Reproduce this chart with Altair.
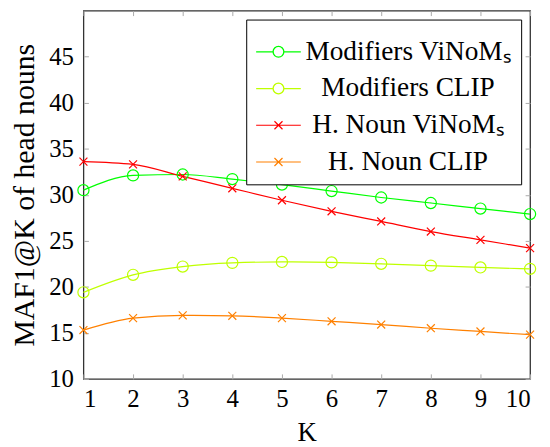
import altair as alt
import pandas as pd

K = [1, 2, 3, 4, 5, 6, 7, 8, 9, 10]
series_names = ["Modifiers ViNoMₛ", "Modifiers CLIP", "H. Noun ViNoMₛ", "H. Noun CLIP"]
mod_vinom = [30.5, 32.1, 32.2, 31.7, 31.1, 30.4, 29.7, 29.1, 28.5, 27.9]
mod_clip = [19.4, 21.3, 22.2, 22.6, 22.7, 22.65, 22.5, 22.3, 22.1, 21.95]
hn_vinom = [33.6, 33.3, 32.0, 30.7, 29.4, 28.2, 27.1, 26.0, 25.1, 24.2]
hn_clip = [15.3, 16.6, 16.9, 16.85, 16.6, 16.25, 15.9, 15.5, 15.15, 14.8]
colors = ["#00ff00", "#bfff00", "#ff0000", "#ff8000"]
y_ticks = [10, 15, 20, 25, 30, 35, 40, 45]

rows = []
for name, vals in zip(series_names, [mod_vinom, mod_clip, hn_vinom, hn_clip]):
    for k, v in zip(K, vals):
        rows.append({"K": k, "value": v, "series": name})
df = pd.DataFrame(rows)

W, H = 450, 371
SERIF = "Liberation Serif"

circle_path = "M0.7,0A0.7,0.7 0 1,1 -0.7,0A0.7,0.7 0 1,1 0.7,0"
cross_path = "M-0.5,-0.5L0.5,0.5M-0.5,0.5L0.5,-0.5"
# legend symbols: line segment plus marker; the circle is a thin ring so any fill stays invisible
leg_circle = ("M-1,0L-0.244,0M0.244,0L1,0"
              "M0.244,0A0.244,0.244 0 1,1 -0.244,0A0.244,0.244 0 1,1 0.244,0Z"
              "M0.238,0A0.238,0.238 0 1,0 -0.238,0A0.238,0.238 0 1,0 0.238,0Z")
leg_cross = "M-1,0L1,0M-0.18,-0.18L0.18,0.18M-0.18,0.18L0.18,-0.18"

x_enc = alt.X("K:Q", scale=alt.Scale(domain=[1, 10], nice=False),
              axis=alt.Axis(values=K, format="d", title="K",
                            labelFont=SERIF, labelFontSize=25, titleFontSize=27,
                            labelPadding=8, titlePadding=8,
                            gridDash=[5, H - 10, 5, 1000]))
y_enc = alt.Y("value:Q", scale=alt.Scale(domain=[10, 50], nice=False, zero=False),
              axis=alt.Axis(values=y_ticks, title="MAF1@K of head nouns",
                            labelFont=SERIF, labelFontSize=25, titleFontSize=30,
                            labelPadding=10, titlePadding=9,
                            gridDash=[5, W - 10, 5, 1000]))

color_scale = alt.Scale(domain=series_names, range=colors)
shape_scale = alt.Scale(domain=series_names, range=[leg_circle, leg_circle, leg_cross, leg_cross])

base = alt.Chart(df)

legend = alt.Legend(symbolFillColor="transparent", symbolStrokeWidth=1.2)

lines = base.mark_line(interpolate="monotone", strokeWidth=1.2).encode(
    x=x_enc, y=y_enc,
    color=alt.Color("series:N", scale=color_scale, legend=legend),
    shape=alt.Shape("series:N", scale=shape_scale, legend=legend),
)

circles = base.transform_filter(
    alt.FieldOneOfPredicate(field="series", oneOf=series_names[:2])
).mark_point(shape=circle_path, filled=False, size=256, strokeWidth=1.2, opacity=1).encode(
    x="K:Q", y="value:Q",
    color=alt.Color("series:N", scale=color_scale),
)

crosses = base.transform_filter(
    alt.FieldOneOfPredicate(field="series", oneOf=series_names[2:])
).mark_point(shape=cross_path, filled=False, size=256, strokeWidth=1.2, opacity=1).encode(
    x="K:Q", y="value:Q",
    color=alt.Color("series:N", scale=color_scale),
)

chart = alt.layer(lines, circles, crosses).properties(
    width=W, height=H,
    autosize=alt.AutoSizeParams(type="none"),
    padding={"left": 76, "top": 1, "right": 12, "bottom": 66},
).configure_view(
    stroke="#333333", strokeWidth=1.3
).configure_axis(
    labelFont=SERIF, labelFontSize=25, labelColor="black",
    titleFont=SERIF, titleFontWeight="normal", titleColor="black",
    ticks=False, domain=False, grid=True, gridColor="#aaaaaa", gridWidth=1,
).configure_legend(
    title=None, orient="top-right", offset=9,
    labelFont=SERIF, labelFontSize=27.5, labelColor="black", labelLimit=500,
    labelAlign="center", labelOffset=107, rowPadding=-10,
    symbolSize=2025, symbolStrokeWidth=1.2, symbolType="stroke",
    strokeColor="black", fillColor="white", padding=9,
)

chart.save("out.html", embed_options={"renderer": "svg", "actions": False})
